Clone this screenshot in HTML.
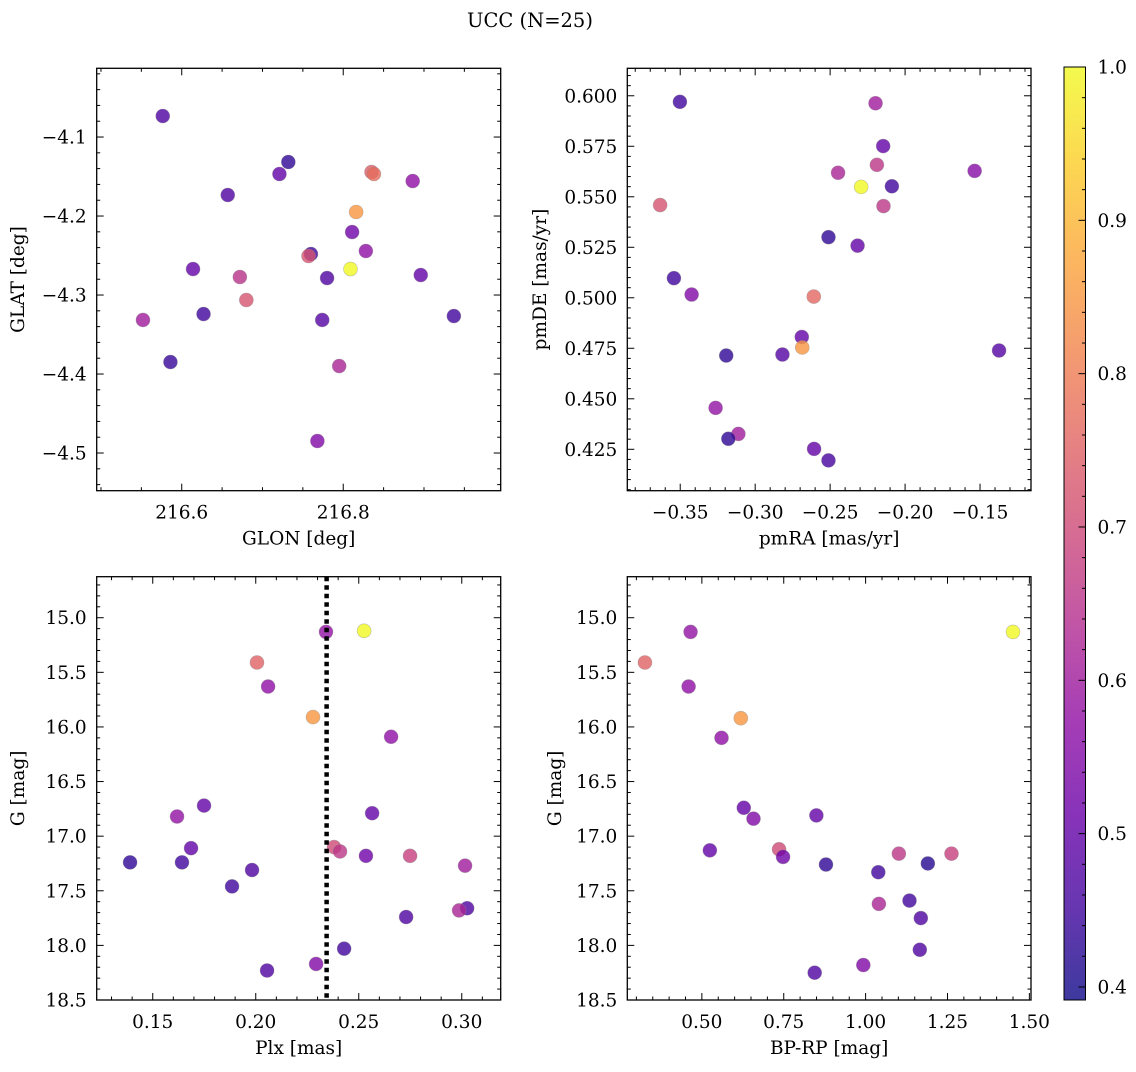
<!DOCTYPE html>
<html><head><meta charset="utf-8"><style>
html,body{margin:0;padding:0;background:#fff;}
svg text{font-family:"DejaVu Serif","Liberation Serif",serif;fill:#000;}
</style></head><body>
<svg id="fig" width="1136" height="1067" xmlns="http://www.w3.org/2000/svg">
<text x="530" y="27" font-size="19.5" text-anchor="middle">UCC (N=25)</text>
</svg>
<script>
// ---- Panel data (top level) ----
const glon = [216.5765,216.732,216.721,216.657,216.835,216.838,216.886,216.816,216.811,216.760,216.757,216.828,216.809,216.614,216.672,216.780,216.896,216.680,216.627,216.552,216.774,216.937,216.586,216.795,216.768];
const glat = [-4.0734,-4.1316,-4.1468,-4.1734,-4.1443,-4.1468,-4.1557,-4.1949,-4.2203,-4.2481,-4.2506,-4.2443,-4.2671,-4.2671,-4.2772,-4.2785,-4.2747,-4.3063,-4.3241,-4.3316,-4.3316,-4.3266,-4.3848,-4.3899,-4.4848];
const probTL = [0.47,0.43,0.5,0.47,0.74,0.77,0.57,0.85,0.52,0.45,0.72,0.57,1.0,0.5,0.65,0.47,0.5,0.72,0.45,0.6,0.48,0.45,0.44,0.62,0.55];

const pmra = [-0.3502,-0.2197,-0.2146,-0.2447,-0.2188,-0.1536,-0.2293,-0.2088,-0.2144,-0.3634,-0.2511,-0.2317,-0.3542,-0.3424,-0.2609,-0.2689,-0.2686,-0.3193,-0.2818,-0.1373,-0.3264,-0.3112,-0.3179,-0.2607,-0.2511];
const pmde = [0.5970,0.5963,0.5751,0.5619,0.5658,0.5628,0.5549,0.5552,0.5454,0.5459,0.5300,0.5258,0.5097,0.5016,0.5006,0.4806,0.4754,0.4714,0.4719,0.4739,0.4455,0.4326,0.4302,0.4252,0.4195];
const probTR = [0.45,0.6,0.5,0.62,0.66,0.56,1.0,0.45,0.66,0.72,0.43,0.5,0.45,0.55,0.76,0.5,0.85,0.43,0.48,0.48,0.58,0.6,0.43,0.5,0.46];

const plx = [0.2341,0.2526,0.2006,0.2060,0.2278,0.2657,0.1749,0.2565,0.1618,0.2380,0.2409,0.1686,0.2749,0.2535,0.1390,0.1642,0.3016,0.1982,0.1885,0.3026,0.2987,0.2730,0.2429,0.2293,0.2055];
const gBL = [15.13,15.12,15.41,15.63,15.91,16.09,16.72,16.79,16.82,17.10,17.14,17.11,17.18,17.18,17.24,17.24,17.27,17.31,17.46,17.66,17.68,17.74,18.03,18.17,18.23];
const probBL = [0.58,1.0,0.75,0.57,0.85,0.57,0.5,0.5,0.58,0.7,0.66,0.5,0.68,0.52,0.43,0.45,0.6,0.47,0.45,0.47,0.62,0.47,0.45,0.55,0.47];
const plxLine = [0.2344];

const bprp = [1.450,0.4655,0.3262,0.4595,0.6189,0.560,0.628,0.6576,0.8497,0.5244,0.7357,0.7479,0.879,1.1015,1.2622,1.190,1.0387,1.0405,1.134,1.1686,1.1655,0.993,0.8445];
const gBR = [15.13,15.13,15.41,15.63,15.92,16.10,16.74,16.84,16.81,17.13,17.12,17.19,17.26,17.16,17.16,17.25,17.33,17.62,17.59,17.75,18.04,18.18,18.25];
const probBR = [1.0,0.58,0.75,0.57,0.85,0.57,0.5,0.55,0.5,0.5,0.7,0.52,0.43,0.66,0.68,0.42,0.45,0.62,0.45,0.47,0.47,0.55,0.47];

const cbTicks = [0.4,0.5,0.6,0.7,0.8,0.9,1.0];
const vmin = 0.3915, vmax = 1.0;

// ---- helpers ----
const NS = "http://www.w3.org/2000/svg";
const svg = document.getElementById('fig');
const FS = 18.5;
function el(tag, attrs, parent){const e=document.createElementNS(NS,tag);for(const k in attrs)e.setAttribute(k,attrs[k]);(parent||svg).appendChild(e);return e;}
const stops=[[13,8,135],[65,4,157],[106,0,168],[143,13,164],[177,42,144],[204,71,120],[225,100,98],[242,132,75],[252,166,54],[252,206,37],[240,249,33]];
function plasma(v){let t=(v-vmin)/(vmax-vmin);t=Math.max(0,Math.min(1,t));const p=t*10,i=Math.min(9,Math.floor(p)),f=p-i;const a=stops[i],b=stops[i+1];return 'rgb('+a.map((c,k)=>Math.round(c+(b[k]-c)*f)).join(',')+')';}
function fmt(v,d){const s=Math.abs(v).toFixed(d);return (v<-1e-9?'\u2212':'')+s;}

function panel(o){
  const g=el('g',{});
  
  
  const X=v=>o.L+(v-o.x0)/(o.x1-o.x0)*o.W;
  const Y=v=>o.T+(o.y1-v)/(o.y1-o.y0)*o.H;
  for(let i=0;i<o.xs.length;i++){
    const c=el('circle',{cx:X(o.xs[i]),cy:Y(o.ys[i]),r:7,fill:plasma(o.cs[i]),'fill-opacity':0.8,stroke:'#888','stroke-opacity':0.5,'stroke-width':0.6},g);
    
    
  }
  if(o.vline){
    const ln=el('line',{x1:X(o.vline[0]),x2:X(o.vline[0]),y1:o.T,y2:o.T+o.H,stroke:'#000','stroke-width':4.5,'stroke-dasharray':'4.5 4'},g);
    
    
  }
  const tg=el('g',{stroke:'#000','stroke-width':1},g);
  const eps=1e-9;
  const xlo=Math.min(o.x0,o.x1), xhi=Math.max(o.x0,o.x1);
  for(let v=Math.ceil(xlo/o.xmin-eps)*o.xmin; v<=xhi+eps; v+=o.xmin){
    const px=X(v);const maj=Math.abs(v/o.xmaj-Math.round(v/o.xmaj))<1e-4;const len=maj?7:3.5;
    el('line',{x1:px,x2:px,y1:o.T+o.H,y2:o.T+o.H-len},tg);el('line',{x1:px,x2:px,y1:o.T,y2:o.T+len},tg);
    if(maj){const t=el('text',{x:px,y:o.T+o.H+28,'font-size':FS,'text-anchor':'middle'},g);t.textContent=fmt(Math.round(v/o.xmaj)*o.xmaj,o.xd);
      }
  }
  const ylo=Math.min(o.y0,o.y1), yhi=Math.max(o.y0,o.y1);
  for(let v=Math.ceil(ylo/o.ymin-eps)*o.ymin; v<=yhi+eps; v+=o.ymin){
    const py=Y(v);const maj=Math.abs(v/o.ymaj-Math.round(v/o.ymaj))<1e-4;const len=maj?7:3.5;
    el('line',{x1:o.L,x2:o.L+len,y1:py,y2:py},tg);el('line',{x1:o.L+o.W,x2:o.L+o.W-len,y1:py,y2:py},tg);
    if(maj){const t=el('text',{x:o.L-10,y:py+6.5,'font-size':FS,'text-anchor':'end'},g);t.textContent=fmt(Math.round(v/o.ymaj)*o.ymaj,o.yd);
      }
  }
  const fr=el('rect',{x:o.L,y:o.T,width:o.W,height:o.H,fill:'none',stroke:'#000','stroke-width':1.3},g);
  
  
  const xl=el('text',{x:o.L+o.W/2,y:o.T+o.H+54,'font-size':FS,'text-anchor':'middle'},g);xl.textContent=o.xlab;
  
  const yx=o.ylx, yy=o.T+o.H/2;
  const yl=el('text',{x:yx,y:yy,'font-size':FS,'text-anchor':'middle',transform:'rotate(-90 '+yx+' '+yy+')'},g);yl.textContent=o.ylab;
  
}

panel({name:'glon-glat-panel',pt:'star',L:96.7,T:68.3,W:404,H:422.4,x0:216.4947,x1:216.995,y0:-4.5477,y1:-4.013,xmaj:0.2,xmin:0.05,ymaj:0.1,ymin:0.02,xd:1,yd:1,xs:glon,ys:glat,cs:probTL,xlab:'GLON [deg]',ylab:'GLAT [deg]',ylx:24});
panel({name:'proper-motion-panel',pt:'star',L:627.3,T:68.3,W:403.7,H:422.4,x0:-0.3853,x1:-0.116,y0:0.4045,y1:0.6136,xmaj:0.05,xmin:0.01,ymaj:0.025,ymin:0.005,xd:2,yd:3,xs:pmra,ys:pmde,cs:probTR,xlab:'pmRA [mas/yr]',ylab:'pmDE [mas/yr]',ylx:546});
panel({name:'plx-g-panel',pt:'star',L:96.7,T:576.7,W:404,H:423.3,x0:0.1228,x1:0.3189,y0:18.5,y1:14.6245,xmaj:0.05,xmin:0.01,ymaj:0.5,ymin:0.1,xd:2,yd:1,xs:plx,ys:gBL,cs:probBL,xlab:'Plx [mas]',ylab:'G [mag]',ylx:24,vline:plxLine});
panel({name:'cmd-panel',pt:'star',L:627.3,T:576.7,W:403.7,H:423.3,x0:0.2723,x1:1.505,y0:18.5,y1:14.6245,xmaj:0.25,xmin:0.05,ymaj:0.5,ymin:0.1,xd:2,yd:1,xs:bprp,ys:gBR,cs:probBR,xlab:'BP-RP [mag]',ylab:'G [mag]',ylx:561});

// ---- colorbar ----
(function(){
  const L=1064,T=67,W=21.5,H=933;
  const defs=el('defs',{});
  const lg=el('linearGradient',{id:'cbg',x1:0,y1:1,x2:0,y2:0},defs);
  for(let k=0;k<=20;k++){const v=vmin+(vmax-vmin)*k/20;el('stop',{offset:(k/20),'stop-color':plasma(v),'stop-opacity':0.8},lg);}
  const cb=el('g',{});
  
  
  el('rect',{x:L,y:T,width:W,height:H,fill:'url(#cbg)',stroke:'#000','stroke-width':1},cb);
  const Y=v=>T+(vmax-v)/(vmax-vmin)*H;
  for(let v=0.4;v<=1.0001;v+=0.02){const py=Y(v);const maj=Math.abs(v*10-Math.round(v*10))<1e-4;
    el('line',{x1:L+W,x2:L+W-(maj?7:3.5),y1:py,y2:py,stroke:'#000','stroke-width':1},cb);}
  cbTicks.forEach(v=>{const t=el('text',{x:L+W+12,y:Y(v)+6.5,'font-size':FS},cb);t.textContent=v.toFixed(1);
    });
})();
</script>
</body></html>
